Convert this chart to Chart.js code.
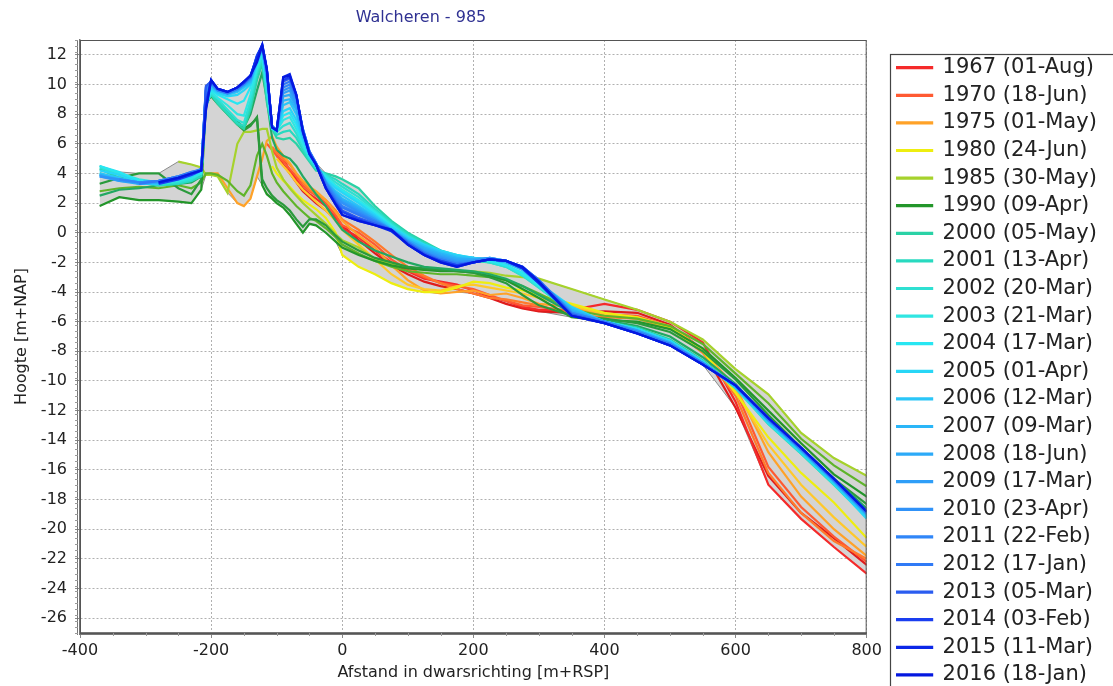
<!DOCTYPE html>
<html>
<head>
<meta charset="utf-8">
<title>Walcheren - 985</title>
<script src="https://cdn.jsdelivr.net/npm/chart.js@4.4.0/dist/chart.umd.min.js"></script>
<style>
  html, body { margin: 0; padding: 0; background: #fff; }
  #wrap { width: 1113px; height: 686px; position: relative; }
</style>
</head>
<body>
<div id="wrap"><canvas id="profileChart"></canvas></div>
<script>
// cross-shore distance [m+RSP], shared by all profiles
const distances = [
  -370, -340, -310, -280, -250,
  -230, -215, -208, -200, -190,
  -175, -160, -150, -140, -130,
  -122, -115, -107, -100, -90,
  -80, -70, -60, -50, -40,
  -25, -10, 0, 25, 50,
  75, 100, 125, 150, 175,
  200, 225, 250, 275, 300,
  350, 400, 450, 500, 550,
  600, 650, 700, 750, 800
];
const xTicks = [-400, -200, 0, 200, 400, 600, 800];
const yTicks = [-26, -24, -22, -20, -18, -16, -14, -12, -10, -8, -6, -4, -2, 0, 2, 4, 6, 8, 10, 12];

// heights [m+NAP] per survey
const h1965 = [null, null, null, null, null, null, null, null, null, null, null, null, null, null, null,
  null, null, null, 5.2, 4.6, 4.0, 3.4, 2.8, 2.4, 2.0, 1.5, 0.9, 0.5, -0.5, -1.4,
  -2.2, -2.8, -3.3, -3.6, -3.8, -4.1, -4.4, -4.8, -5.1, -5.3,
  -5.4, -5.3, -5.4, -6.2, -7.9, -11.8, -16.4, -18.9, -20.6, -22.4];
const h1967 = [null, null, null, null, null, null, null, null, null, null, null, null, null, null, null,
  null, null, null, 5.5, 5.0, 4.2, 3.6, 3.0, 2.6, 2.3, 1.8, 1.0, 0.3, -0.3, -1.2,
  -2.0, -2.6, -3.1, -3.3, -3.5, -3.9, -4.3, -4.6, -5.0, -5.2,
  -5.2, -4.8, -5.2, -6.0, -7.4, -11.4, -17.0, -19.3, -21.2, -23.0];
const h1970 = [null, null, null, null, null, null, null, null, null, null, null, null, null, null, null,
  null, 6.0, 5.6, 5.2, 4.8, 4.3, 3.8, 3.2, 2.8, 2.5, 2.0, 1.2, 0.5, 0.0, -0.8,
  -1.8, -2.5, -3.0, -3.4, -3.6, -3.8, -4.2, -4.6, -4.9, -5.0,
  -5.3, -5.5, -5.6, -6.3, -7.9, -10.6, -15.8, -18.5, -20.5, -22.2];
const h1972 = [null, null, null, null, null, null, null, null, null, null, null, null, null, null, null,
  null, null, 5.8, 5.4, 5.0, 4.6, 4.0, 3.4, 2.9, 2.6, 2.2, 1.5, 0.9, 0.2, -0.6,
  -1.5, -2.3, -2.9, -3.4, -3.8, -4.1, -4.4, -4.5, -4.7, -4.9,
  -5.5, -5.7, -5.8, -6.4, -8.1, -11.0, -16.2, -18.9, -20.8, -22.0];
const h1975 = [null, null, null, null, null, null, null, 3.95, 4.0, 4.0, 3.0, 2.0, 1.8, 2.3, 3.8,
  5.0, 6.2, 6.5, 5.8, 5.2, 4.7, 4.0, 3.5, 3.1, 2.8, 2.2, 1.4, 0.8, -0.2, -1.0,
  -2.2, -3.2, -3.9, -4.1, -4.0, -3.9, -4.2, -4.1, -4.4, -4.8,
  -5.0, -5.6, -5.8, -6.4, -8.0, -10.4, -14.8, -17.8, -20.0, -21.8];
const h1978 = [null, null, null, null, null, null, null, null, null, null, null, null, null, null, null,
  null, null, null, 5.0, 4.5, 4.0, 3.4, 2.9, 2.5, 2.1, 1.5, 0.8, 0.2, -0.8, -1.8,
  -2.8, -3.5, -3.8, -3.9, -3.6, -3.5, -3.7, -3.9, -4.1, -4.4,
  -4.9, -5.5, -5.7, -6.3, -7.9, -10.7, -14.3, -17.0, -19.2, -21.2];
const h1980 = [null, null, null, null, null, null, null, null, null, null, null, null, null, null, null,
  null, null, 4.5, 4.0, 3.5, 3.1, 2.6, 2.2, 1.9, 1.6, 1.0, 0.0, -1.5, -2.3, -2.8,
  -3.4, -3.8, -4.0, -4.0, -3.7, -3.3, -3.4, -3.7, -3.9, -4.2,
  -4.8, -5.4, -5.7, -6.4, -8.0, -10.8, -13.8, -16.2, -18.2, -20.6];
const h1985 = [null, null, null, null, 4.8, 4.6, 4.4, 3.9, 3.9, 3.8, 2.7, 6.0, 6.8, 6.8, 6.9,
  7.0, 7.0, 5.5, 4.4, 3.6, 3.0, 2.5, 2.0, 1.6, 1.2, 0.6, -0.1, -0.5, -1.0, -1.8,
  -2.1, -2.3, -2.5, -2.5, -2.6, -2.6, -2.7, -2.9, -3.0, -3.1,
  -3.8, -4.5, -5.2, -6.0, -7.2, -9.2, -10.9, -13.5, -15.2, -16.4];
const h1988 = [2.8, 3.0, 3.1, 3.0, 3.2, 3.0, 3.4, 4.0, 4.0, 3.9, 3.5, 2.8, 2.5, 3.2, 5.2,
  6.0, 5.2, 4.0, 3.4, 2.8, 2.3, 1.8, 1.4, 1.0, 0.8, 0.3, -0.3, -0.8, -1.4, -1.9,
  -2.3, -2.6, -2.7, -2.8, -2.8, -2.9, -3.0, -3.2, -3.6, -4.1,
  -5.2, -5.6, -5.8, -6.3, -7.5, -9.5, -11.5, -13.9, -15.7, -17.1];
const h1990 = [1.8, 2.4, 2.2, 2.2, 2.1, 2.0, 2.9, 8.6, 9.3, 8.8, 8.1, 7.4, 7.0, 7.3, 7.7,
  3.2, 2.6, 2.3, 2.0, 1.7, 1.2, 0.6, 0.0, 0.6, 0.5, 0.0, -0.6, -1.0, -1.5, -1.9,
  -2.2, -2.4, -2.5, -2.6, -2.6, -2.7, -2.9, -3.2, -3.8, -4.4,
  -5.7, -5.9, -6.0, -6.5, -7.8, -9.8, -12.0, -14.2, -16.3, -17.8];
const h1994 = [3.3, 3.7, 4.0, 4.0, 3.0, 2.6, 3.6, 8.8, 9.2, 8.7, 8.0, 7.3, 6.9, 7.2, 7.8,
  3.6, 3.0, 2.5, 2.2, 1.9, 1.5, 0.9, 0.4, 0.9, 0.9, 0.5, -0.2, -0.6, -1.2, -1.7,
  -2.0, -2.3, -2.4, -2.5, -2.6, -2.7, -3.0, -3.4, -4.2, -4.9,
  -5.6, -5.8, -6.1, -6.7, -8.0, -9.9, -12.3, -14.5, -16.6, -18.3];
const h1997 = [2.5, 2.9, 3.0, 3.2, 3.3, 3.4, 3.8, 8.9, 9.3, 8.8, 8.2, 7.5, 7.1, 8.0, 9.6,
  10.8, 9.0, 6.4, 5.6, 5.2, 5.0, 4.5, 3.8, 3.2, 2.6, 1.8, 0.8, 0.2, -0.6, -1.2,
  -1.6, -2.0, -2.3, -2.4, -2.5, -2.6, -2.8, -3.1, -3.6, -4.2,
  -5.4, -5.9, -6.3, -7.0, -8.4, -10.2, -12.6, -14.6, -16.6, -18.6];
const h2000 = [4.3, 3.7, 3.5, 3.3, 3.4, 3.5, 3.9, 8.9, 9.3, 8.7, 8.0, 7.3, 7.0, 8.3, 10.3,
  11.4, 8.8, 7.0, 6.4, 6.3, 6.4, 6.0, 5.4, 4.8, 4.2, 4.0, 3.8, 3.6, 3.0, 1.8,
  0.8, 0.0, -0.6, -1.2, -1.6, -1.9, -2.0, -2.2, -2.8, -3.6,
  -5.2, -6.0, -6.4, -7.2, -8.6, -10.4, -12.9, -14.9, -17.0, -19.2];
const h2001 = [4.0, 3.6, 3.4, 3.2, 3.3, 3.5, 3.8, 8.7, 9.3, 8.8, 8.1, 7.4, 7.2, 8.6, 10.7,
  11.6, 9.2, 7.1, 6.6, 6.8, 6.9, 6.4, 5.6, 4.9, 4.3, 3.9, 3.6, 3.3, 2.6, 1.6,
  0.7, -0.1, -0.7, -1.2, -1.5, -1.8, -2.0, -2.3, -2.9, -3.7,
  -5.3, -6.0, -6.5, -7.3, -8.7, -10.4, -12.8, -14.8, -16.9, -19.1];
const h2002 = [4.4, 3.9, 3.5, 3.3, 3.4, 3.6, 4.0, 8.6, 9.4, 9.0, 8.3, 7.6, 7.4, 8.9, 10.9,
  11.8, 9.5, 7.2, 6.8, 7.2, 7.4, 6.7, 5.8, 5.0, 4.4, 3.9, 3.4, 3.1, 2.4, 1.5,
  0.6, -0.2, -0.8, -1.3, -1.6, -1.8, -2.0, -2.3, -2.9, -3.7,
  -5.4, -6.1, -6.5, -7.3, -8.7, -10.5, -12.9, -14.9, -17.0, -19.2];
const h2003 = [4.5, 4.0, 3.6, 3.4, 3.5, 3.7, 4.0, 8.5, 9.5, 9.1, 8.6, 8.0, 7.9, 9.3, 11.1,
  12.0, 9.7, 7.0, 6.9, 7.6, 7.8, 7.0, 6.0, 5.1, 4.5, 3.8, 3.2, 2.9, 2.2, 1.4,
  0.5, -0.3, -0.9, -1.3, -1.6, -1.7, -1.9, -2.2, -2.8, -3.6,
  -5.3, -6.0, -6.5, -7.3, -8.7, -10.4, -12.8, -14.8, -16.9, -19.1];
const h2004 = [4.5, 4.1, 3.5, 3.4, 3.6, 3.8, 4.1, 8.8, 9.6, 9.3, 9.0, 8.7, 8.9, 9.8, 11.3,
  12.2, 10.0, 7.0, 6.9, 7.9, 8.1, 7.3, 6.2, 5.2, 4.5, 3.7, 3.1, 2.8, 2.1, 1.3,
  0.4, -0.3, -0.9, -1.3, -1.5, -1.7, -1.9, -2.2, -2.7, -3.5,
  -5.2, -6.0, -6.5, -7.3, -8.7, -10.4, -12.8, -14.8, -16.9, -19.2];
const h2005 = [4.2, 3.9, 3.4, 3.3, 3.6, 3.8, 4.2, 9.0, 9.7, 9.4, 9.2, 9.3, 9.6, 10.0, 11.4,
  12.3, 10.2, 7.0, 6.9, 8.2, 8.4, 7.6, 6.3, 5.2, 4.4, 3.6, 3.0, 2.7, 2.0, 1.2,
  0.4, -0.3, -0.8, -1.2, -1.5, -1.7, -1.8, -2.0, -2.5, -3.4,
  -5.0, -6.0, -6.5, -7.3, -8.7, -10.4, -12.8, -14.8, -16.9, -19.3];
const h2006 = [4.0, 3.7, 3.3, 3.3, 3.6, 3.9, 4.2, 9.2, 9.8, 9.5, 9.3, 9.5, 9.8, 10.1, 11.5,
  12.4, 10.4, 7.1, 6.9, 8.6, 8.8, 8.0, 6.5, 5.3, 4.5, 3.5, 2.8, 2.5, 1.8, 1.1,
  0.3, -0.4, -0.9, -1.3, -1.6, -1.7, -1.8, -2.0, -2.5, -3.4,
  -5.1, -6.0, -6.6, -7.4, -8.8, -10.4, -12.7, -14.7, -16.8, -19.1];
const h2007 = [3.9, 3.6, 3.4, 3.4, 3.7, 3.9, 4.2, 9.4, 9.9, 9.6, 9.4, 9.6, 9.9, 10.2, 11.6,
  12.4, 10.5, 7.2, 6.9, 8.9, 9.0, 8.3, 6.6, 5.3, 4.5, 3.4, 2.7, 2.3, 1.7, 1.0,
  0.2, -0.5, -1.0, -1.4, -1.7, -1.8, -1.8, -2.0, -2.5, -3.4,
  -5.2, -6.0, -6.6, -7.4, -8.8, -10.4, -12.7, -14.7, -16.8, -19.0];
const h2008 = [3.9, 3.5, 3.3, 3.4, 3.7, 4.0, 4.3, 9.5, 10.0, 9.6, 9.4, 9.6, 10.0, 10.3, 11.7,
  12.5, 10.6, 7.2, 6.9, 9.2, 9.3, 8.5, 6.8, 5.4, 4.6, 3.4, 2.6, 2.2, 1.6, 0.9,
  0.2, -0.5, -1.1, -1.5, -1.8, -1.8, -1.7, -1.9, -2.4, -3.3,
  -5.3, -6.0, -6.6, -7.4, -8.8, -10.3, -12.6, -14.6, -16.7, -19.0];
const h2009 = [3.8, 3.5, 3.4, 3.5, 3.7, 4.0, 4.3, 9.6, 10.0, 9.6, 9.4, 9.7, 10.0, 10.4, 11.8,
  12.5, 10.7, 7.2, 6.9, 9.4, 9.6, 8.7, 6.9, 5.4, 4.6, 3.3, 2.5, 2.1, 1.5, 0.9,
  0.2, -0.6, -1.2, -1.6, -1.9, -1.9, -1.7, -1.9, -2.4, -3.3,
  -5.4, -6.0, -6.6, -7.5, -8.8, -10.3, -12.6, -14.6, -16.7, -18.9];
const h2010 = [3.8, 3.6, 3.4, 3.5, 3.8, 4.0, 4.3, 9.6, 10.1, 9.6, 9.4, 9.7, 10.0, 10.4, 11.9,
  12.5, 10.8, 7.2, 6.9, 9.6, 9.8, 9.0, 7.0, 5.5, 4.7, 3.4, 2.4, 2.0, 1.4, 0.8,
  0.1, -0.6, -1.3, -1.7, -2.0, -1.9, -1.7, -1.9, -2.4, -3.3,
  -5.4, -6.0, -6.7, -7.5, -8.8, -10.3, -12.6, -14.6, -16.7, -18.9];
const h2011 = [null, 3.6, 3.4, 3.5, 3.8, 4.1, 4.3, 9.7, 10.1, 9.6, 9.4, 9.7, 10.0, 10.5, 11.9,
  12.6, 10.9, 7.2, 6.9, 9.8, 10.0, 9.1, 7.0, 5.5, 4.7, 3.3, 2.3, 1.8, 1.3, 0.8,
  0.2, -0.6, -1.3, -1.8, -2.1, -2.0, -1.8, -1.9, -2.3, -3.2,
  -5.4, -6.0, -6.7, -7.5, -8.8, -10.3, -12.6, -14.6, -16.7, -18.9];
const h2012 = [null, null, 3.3, 3.5, 3.8, 4.1, 4.2, 9.8, 10.2, 9.7, 9.4, 9.7, 10.1, 10.5, 11.9,
  12.6, 11.0, 7.2, 6.9, 10.0, 10.2, 9.2, 7.0, 5.5, 4.7, 3.2, 2.2, 1.7, 1.2, 0.7,
  0.2, -0.7, -1.4, -1.8, -2.1, -2.0, -1.8, -1.9, -2.3, -3.2,
  -5.5, -6.1, -6.7, -7.5, -8.8, -10.3, -12.6, -14.6, -16.7, -18.9];
const h2013 = [null, null, null, 3.4, 3.7, 4.0, 4.2, 9.9, 10.2, 9.7, 9.5, 9.8, 10.1, 10.5, 12.0,
  12.6, 11.0, 7.1, 6.9, 10.2, 10.4, 9.2, 6.9, 5.4, 4.6, 3.1, 2.1, 1.5, 1.0, 0.6,
  0.2, -0.7, -1.4, -1.9, -2.2, -2.0, -1.8, -1.9, -2.4, -3.3,
  -5.5, -6.1, -6.8, -7.6, -8.9, -10.3, -12.5, -14.5, -16.6, -18.8];
const h2014 = [null, null, null, 3.3, 3.6, 3.9, 4.2, 8.8, 10.3, 9.7, 9.5, 9.8, 10.1, 10.6, 11.9,
  12.7, 11.0, 7.1, 6.9, 10.3, 10.5, 9.3, 6.9, 5.4, 4.6, 3.0, 2.0, 1.4, 0.9, 0.5,
  0.2, -0.8, -1.5, -1.9, -2.2, -2.0, -1.8, -1.9, -2.4, -3.4,
  -5.6, -6.1, -6.8, -7.6, -8.9, -10.3, -12.5, -14.5, -16.6, -18.8];
const h2015 = [null, null, null, 3.4, 3.7, 4.0, 4.2, 8.4, 10.3, 9.7, 9.5, 9.8, 10.2, 10.6, 11.8,
  12.7, 11.1, 7.1, 6.9, 10.5, 10.7, 9.3, 6.8, 5.3, 4.6, 3.0, 1.9, 1.2, 0.8, 0.5,
  0.1, -0.8, -1.5, -2.0, -2.3, -2.0, -1.8, -1.9, -2.4, -3.4,
  -5.6, -6.1, -6.8, -7.6, -8.9, -10.3, -12.5, -14.5, -16.6, -18.8];
const h2016 = [null, null, null, 3.4, 3.7, 4.0, 4.2, 8.2, 10.3, 9.7, 9.5, 9.8, 10.2, 10.6, 11.5,
  12.6, 11.0, 7.1, 6.9, 10.5, 10.6, 9.3, 6.8, 5.3, 4.6, 3.0, 1.9, 1.2, 0.8, 0.5,
  0.2, -0.8, -1.5, -2.0, -2.3, -2.0, -1.8, -1.9, -2.3, -3.3,
  -5.6, -6.1, -6.8, -7.6, -8.9, -10.3, -12.5, -14.5, -16.6, -18.8];

const heights = [h1965, h1967, h1970, h1972, h1975, h1978, h1980, h1985, h1988, h1990, h1994, h1997,
  h2000, h2001, h2002, h2003, h2004, h2005, h2006, h2007, h2008, h2009, h2010,
  h2011, h2012, h2013, h2014, h2015, h2016];
const surveyYears = ['1965', '1967', '1970', '1972', '1975', '1978', '1980', '1985', '1988', '1990', '1994', '1997',
  '2000', '2001', '2002', '2003', '2004', '2005', '2006', '2007', '2008', '2009', '2010',
  '2011', '2012', '2013', '2014', '2015', '2016'];
// empty date = survey drawn but not listed in the legend
const surveyDates = ['', '01-Aug', '18-Jun', '', '01-May', '', '24-Jun', '30-May', '', '09-Apr', '', '',
  '05-May', '13-Apr', '20-Mar', '21-Mar', '17-Mar', '01-Apr', '12-Mar', '09-Mar', '18-Jun', '17-Mar', '23-Apr',
  '22-Feb', '17-Jan', '05-Mar', '03-Feb', '11-Mar', '18-Jan'];
const lineColors = ['#e01c1c', '#f52a2a', '#ff5a32', '#ff7a2c', '#ffa228', '#ffc82a', '#eeee10', '#a6d22c', '#5fb42a',
  '#23962a', '#2a9a3c', '#22a862', '#2ad2a6', '#28dac0', '#2ee0d2', '#30e6e2', '#28e6f2', '#28d6f6',
  '#2ac6f8', '#2ab6f8', '#2caaf8', '#2e9ef8', '#3092f8', '#3086f8', '#307af6', '#2a5cf0', '#1a3ef0',
  '#0c28e8', '#0418e0'];

// grey band between the highest and lowest profile
const envTop = distances.map((d, i) => Math.max(...heights.map(h => h[i]).filter(v => v !== null)));
const envBottom = distances.map((d, i) => Math.min(...heights.map(h => h[i]).filter(v => v !== null)));

const datasets = [
  {
    label: 'max',
    data: distances.map((d, i) => ({ x: d, y: envTop[i] })),
    borderColor: '#8c8c8c', borderWidth: 1, backgroundColor: '#d4d4d4',
    pointRadius: 0, fill: '+1', order: 100
  },
  {
    label: 'min',
    data: distances.map((d, i) => ({ x: d, y: envBottom[i] })),
    borderColor: '#8c8c8c', borderWidth: 1, backgroundColor: '#d4d4d4',
    pointRadius: 0, fill: false, order: 99
  }
];
heights.forEach((h, k) => {
  datasets.push({
    label: surveyDates[k] ? surveyYears[k] + ' (' + surveyDates[k] + ')' : surveyYears[k],
    data: distances.map((d, i) => ({ x: d, y: h[i] })),
    borderColor: lineColors[k],
    backgroundColor: lineColors[k],
    borderWidth: 2.2,
    pointRadius: 0,
    fill: false,
    order: heights.length - k
  });
});

// move the legend next to the plot, like the original box
const legendPlace = {
  id: 'legendPlace',
  afterLayout(chart) {
    const lg = chart.legend;
    const h = lg.height;
    lg.left = 890.5;
    lg.right = 1113;
    lg.top = 50.6;
    lg.bottom = lg.top + h;
  }
};

const frame = {
  id: 'frame',
  afterDraw(chart) {
    const ctx = chart.ctx;
    const a = chart.chartArea;
    const xs = chart.scales.x, ys = chart.scales.y;
    ctx.save();
    // title
    ctx.fillStyle = '#2f3192';
    ctx.font = '16px "DejaVu Sans"';
    ctx.textAlign = 'center';
    ctx.textBaseline = 'middle';
    ctx.fillText('Walcheren - 985', 421, 18);
    // plot frame
    ctx.strokeStyle = '#555';
    ctx.lineWidth = 1;
    ctx.strokeRect(a.left + 0.5, a.top + 0.5, a.right - a.left - 1, a.bottom - a.top);
    ctx.strokeStyle = '#777';
    ctx.beginPath();
    ctx.moveTo(a.left - 2.5, a.top);
    ctx.lineTo(a.left - 2.5, a.bottom + 2);
    ctx.stroke();
    // minor ticks
    ctx.strokeStyle = '#999';
    for (let v = -350; v < 800; v += 50) {
      if (v % 200 === 0) continue;
      const px = Math.round(xs.getPixelForValue(v)) + 0.5;
      ctx.beginPath();
      ctx.moveTo(px, a.bottom);
      ctx.lineTo(px, a.bottom + 3);
      ctx.stroke();
    }
    for (let v = -27; v <= 13; v += 0.4) {
      const py = Math.round(ys.getPixelForValue(v)) + 0.5;
      ctx.beginPath();
      ctx.moveTo(a.left - 5, py);
      ctx.lineTo(a.left - 2, py);
      ctx.stroke();
    }
    // legend box
    ctx.strokeStyle = '#444';
    ctx.lineWidth = 1.2;
    ctx.strokeRect(890.5, 54.5, 240, 700);
    ctx.restore();
  }
};

const ctx = document.getElementById('profileChart').getContext('2d');
Chart.defaults.font.family = '"DejaVu Sans", Verdana, sans-serif';
Chart.defaults.color = '#222';

const profileChart = new Chart(ctx, {
  type: 'line',
  data: { datasets: datasets },
  plugins: [legendPlace, frame],
  options: {
    responsive: true,
    maintainAspectRatio: false,
    animation: false,
    layout: { padding: { top: 40, right: 30, bottom: 0, left: 0 } },
    elements: { line: { tension: 0 } },
    scales: {
      x: {
        type: 'linear',
        min: -400,
        max: 800,
        afterFit(scale) { scale.height = 53; },
        afterBuildTicks(scale) { scale.ticks = xTicks.map(v => ({ value: v })); },
        ticks: { padding: 3, font: { size: 16 }, color: '#222' },
        grid: { color: '#b0b0b0', tickLength: 5, tickColor: '#888' },
        border: { color: '#777', width: 3, dash: [2, 2] },
        title: { display: true, text: 'Afstand in dwarsrichting [m+RSP]', font: { size: 16 }, color: '#222', padding: { top: 0, bottom: 4 } }
      },
      y: {
        type: 'linear',
        min: -27,
        max: 13,
        afterFit(scale) { scale.width = 80; },
        afterBuildTicks(scale) { scale.ticks = yTicks.map(v => ({ value: v })); },
        ticks: { padding: 8, font: { size: 16 }, color: '#222' },
        grid: { color: '#b0b0b0', tickLength: 5, tickColor: '#888' },
        border: { color: '#777', width: 1.5, dash: [2, 2] },
        title: { display: true, text: 'Hoogte [m+NAP]', font: { size: 16 }, color: '#222', padding: { top: 12, bottom: 0 } }
      }
    },
    plugins: {
      title: { display: false },
      tooltip: { enabled: false },
      legend: {
        position: 'right',
        align: 'start',
        labels: {
          boxWidth: 35,
          boxHeight: 1,
          padding: 6.6,
          color: '#222',
          font: { size: 21 },
          filter: (item) => item.datasetIndex >= 2 && surveyDates[item.datasetIndex - 2] !== '',
          sort: (a, b) => a.datasetIndex - b.datasetIndex
        }
      }
    }
  }
});
</script>
</body>
</html>
